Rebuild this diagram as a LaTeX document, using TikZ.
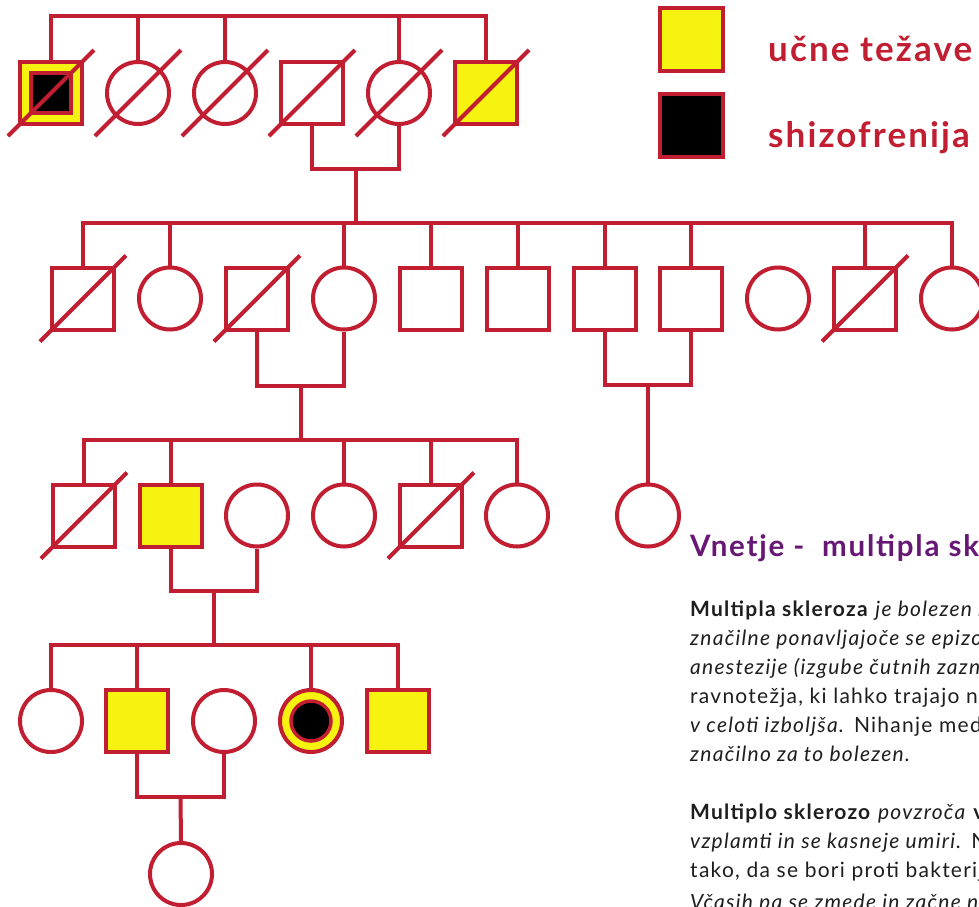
\documentclass[tikz,border=0pt]{standalone}
\usepackage{fontspec}
\setmainfont{Lato}
\newfontfamily\bodyfont[LetterSpace=6]{Lato}
\newfontfamily\legendfont[LetterSpace=6]{Lato}
\newfontfamily\titlefont[LetterSpace=6]{Lato}
\definecolor{pedred}{RGB}{193,30,50}
\definecolor{pedyellow}{RGB}{247,243,16}
\definecolor{titlepurple}{RGB}{102,24,116}
\definecolor{bodytext}{RGB}{30,30,30}
\begin{document}
\begin{tikzpicture}[x=1pt,y=-1pt,
  pline/.style={draw=pedred,line width=4pt},
  male/.style={rectangle,draw=pedred,line width=4pt,minimum size=62pt,inner sep=0pt,fill=white},
  female/.style={circle,draw=pedred,line width=4pt,minimum size=62pt,inner sep=0pt,fill=white},
  affected/.style={fill=pedyellow},
  innermale/.style={rectangle,draw=pedred,line width=3.5pt,minimum size=40pt,inner sep=0pt,fill=black},
  innerfemale/.style={circle,draw=pedred,line width=3.5pt,minimum size=40pt,inner sep=0pt,fill=black},
  legendbox/.style={rectangle,draw=pedred,line width=4pt,minimum size=63pt,inner sep=0pt},
  legendtext/.style={anchor=base west,inner sep=0pt,text=pedred,font=\legendfont\fontsize{35}{40}\selectfont\bfseries},
  bodyline/.style={anchor=base west,inner sep=0pt,text=bodytext,font=\bodyfont\fontsize{21}{25}\selectfont}
]
\useasboundingbox (0,0) rectangle (979,906);
\clip (0,0) rectangle (979,906);
\fill[white] (0,0) rectangle (979,906);

% ---------- generation 1
\node[male,affected] (g1a) at (51,93) {};
\node[innermale] (g1ai) at (51,93) {};
\node[female] (g1b) at (138,93) {};
\node[female] (g1c) at (225,93) {};
\node[male] (g1d) at (312,93) {};
\node[female] (g1e) at (399,93) {};
\node[male,affected] (g1f) at (486,93) {};

% ---------- generation 2
\node[male] (g2a) at (83,298.5) {};
\node[female] (g2b) at (170,298.5) {};
\node[male] (g2c) at (257,298.5) {};
\node[female] (g2d) at (344,298.5) {};
\node[male] (g2e) at (431,298.5) {};
\node[male] (g2f) at (518,298.5) {};
\node[male] (g2g) at (605,298.5) {};
\node[male] (g2h) at (691,298.5) {};
\node[female] (g2i) at (778,298.5) {};
\node[male] (g2j) at (865,298.5) {};
\node[female] (g2k) at (952,298.5) {};

% ---------- generation 3
\node[male] (g3a) at (84,515.5) {};
\node[male,affected] (g3b) at (171,515.5) {};
\node[female] (g3c) at (257,515.5) {};
\node[female] (g3d) at (344,515.5) {};
\node[male] (g3e) at (431,515.5) {};
\node[female] (g3f) at (517,515.5) {};
\node[female] (g3g) at (648,515.5) {};

% ---------- generation 4
\node[female] (g4a) at (51,721) {};
\node[male,affected] (g4b) at (137,721) {};
\node[female] (g4c) at (224,721) {};
\node[female,affected] (g4d) at (311,721) {};
\node[innerfemale] (g4di) at (311,721) {};
\node[male,affected] (g4e) at (398,721) {};

% ---------- generation 5
\node[female] (g5a) at (181,874) {};

% ---------- sibling bars
\coordinate (bar1) at (0,16);
\coordinate (bar2) at (0,223);
\coordinate (bar3) at (0,440);
\coordinate (bar4) at (0,645);
\draw[pline] (g1a.north) -- (g1a.north |- bar1) -- (g1f.north |- bar1) -- (g1f.north);
\foreach \n in {g1b,g1c,g1e} \draw[pline] (\n.north) -- (\n.north |- bar1);
\draw[pline] (g2a.north) -- (g2a.north |- bar2) -- (g2k.north |- bar2) -- (g2k.north);
\foreach \n in {g2b,g2d,g2e,g2f,g2g,g2h,g2j} \draw[pline] (\n.north) -- (\n.north |- bar2);
\draw[pline] (g3a.north) -- (g3a.north |- bar3) -- (g3f.north |- bar3) -- (g3f.north);
\foreach \n in {g3b,g3d,g3e} \draw[pline] (\n.north) -- (\n.north |- bar3);
\draw[pline] (g4a.north) -- (g4a.north |- bar4) -- (g4e.north |- bar4) -- (g4e.north);
\foreach \n in {g4b,g4d} \draw[pline] (\n.north) -- (\n.north |- bar4);

% ---------- couples and descent lines
\coordinate (m1) at (355.5,169);
\draw[pline] (g1d.south) |- (m1) -| (g1e.south);
\draw[pline] (m1) -- (m1 |- bar2);
\coordinate (m2) at (300.5,386);
\draw[pline] (g2c.south) |- (m2) -| (g2d.south);
\draw[pline] (m2) -- (m2 |- bar3);
\coordinate (m3) at (648,385);
\draw[pline] (g2g.south) |- (m3) -| (g2h.south);
\draw[pline] (m3) -- (g3g.north);
\coordinate (m4) at (214,591);
\draw[pline] (g3b.south) |- (m4) -| (g3c.south);
\draw[pline] (m4) -- (m4 |- bar4);
\coordinate (m5) at (180.5,797);
\draw[pline] (g4b.south) |- (m5) -| (g4c.south);
\draw[pline] (m5) -- (g5a.north);

% ---------- deceased marks
\foreach \n in {g1a,g1b,g1c,g1d,g1e,g1f,g2a,g2c,g2j,g3a,g3e}
  \draw[pline] ([shift={(-43,43)}]\n.center) -- ([shift={(43,-43)}]\n.center);

% ---------- legend
\node[legendbox,fill=pedyellow] (leg1) at (691.5,39) {};
\node[legendbox,fill=black] (leg2) at (691.5,125.5) {};
\node[legendtext] (leg1t) at (768,61) {učne težave};
\node[legendtext] (leg2t) at (768,147) {shizofrenija};

% ---------- text
\node[anchor=base west,inner sep=0pt,text=titlepurple,font=\titlefont\fontsize{29.5}{34}\selectfont\bfseries] (title) at (690,556) {Vnetje -\ \ multipla sk};
\node[bodyline] (t1) at (690,616) {\textbf{Multipla skleroza} \textit{je bolezen n}};
\node[bodyline] (t2) at (690,645) {\textit{značilne ponavljajoče se epizo}};
\node[bodyline] (t3) at (690,674) {\textit{anestezije (izgube čutnih zazn}};
\node[bodyline] (t4) at (690,703) {ravnotežja, ki lahko trajajo ne};
\node[bodyline] (t5) at (690,732) {\textit{v celoti izboljša.} Nihanje med o};
\node[bodyline] (t6) at (690,761) {\textit{značilno za to bolezen.}};
\node[bodyline] (t7) at (690,819) {\textbf{Multiplo sklerozo} \textit{povzroča} \textbf{v}};
\node[bodyline] (t8) at (690,848) {\textit{vzplamti in se kasneje umiri.} N};
\node[bodyline] (t9) at (690,877) {tako, da se bori proti bakterij};
\node[bodyline] (t10) at (690,909) {\textit{Včasih pa se zmede in začne n}};
\end{tikzpicture}
\end{document}
